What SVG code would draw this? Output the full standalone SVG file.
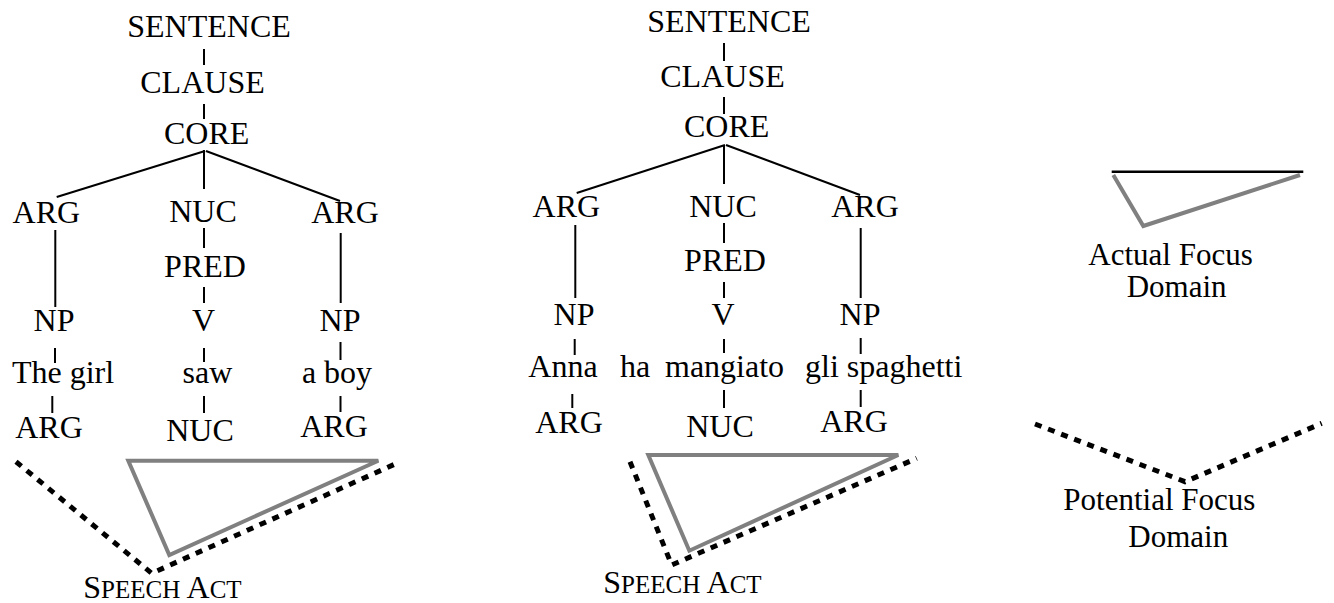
<svg xmlns="http://www.w3.org/2000/svg" width="1334" height="603" viewBox="0 0 1334 603">
<style>
text{font-family:"Liberation Serif","Times New Roman",serif;font-size:32px;fill:#000}
.m{text-anchor:middle}
.lbl{font-size:31px}
.sc{font-size:25px}
.ln{stroke:#000;stroke-width:2;fill:none}
.gray{stroke:#808080;stroke-width:4;fill:none;stroke-linejoin:miter}
.dot{stroke:#000;stroke-width:5;fill:none;stroke-dasharray:7 7}
</style>
<rect width="1334" height="603" fill="#fff"/>
<g id="connectors">
<!-- left tree -->
<line class="ln" x1="204" y1="49" x2="204" y2="65"/>
<line class="ln" x1="204" y1="104" x2="204" y2="119"/>
<line class="ln" x1="205" y1="151" x2="56.7" y2="197"/>
<line class="ln" x1="204" y1="150" x2="204" y2="189"/>
<line class="ln" x1="206" y1="151" x2="340" y2="201"/>
<line class="ln" x1="204" y1="228" x2="204" y2="248"/>
<line class="ln" x1="55.3" y1="230" x2="55.3" y2="307"/>
<line class="ln" x1="204" y1="287" x2="204" y2="303"/>
<line class="ln" x1="340.7" y1="233" x2="340.7" y2="303"/>
<line class="ln" x1="55" y1="348" x2="55" y2="363"/>
<line class="ln" x1="204" y1="348" x2="204" y2="362"/>
<line class="ln" x1="340.5" y1="342" x2="340.5" y2="360"/>
<line class="ln" x1="52.3" y1="396" x2="52.3" y2="413"/>
<line class="ln" x1="204" y1="396" x2="204" y2="413"/>
<line class="ln" x1="340.5" y1="396" x2="340.5" y2="412"/>
<!-- middle tree -->
<line class="ln" x1="724" y1="43" x2="724" y2="61"/>
<line class="ln" x1="724" y1="97" x2="724" y2="114"/>
<line class="ln" x1="725" y1="145" x2="576.7" y2="193"/>
<line class="ln" x1="724" y1="145" x2="724" y2="184"/>
<line class="ln" x1="726" y1="145" x2="860" y2="195"/>
<line class="ln" x1="724" y1="223" x2="724" y2="243"/>
<line class="ln" x1="575.3" y1="225" x2="575.3" y2="298"/>
<line class="ln" x1="724" y1="282" x2="724" y2="298"/>
<line class="ln" x1="860.7" y1="228" x2="860.7" y2="298"/>
<line class="ln" x1="574.7" y1="339" x2="574.7" y2="355"/>
<line class="ln" x1="724" y1="339" x2="724" y2="353"/>
<line class="ln" x1="860.7" y1="338" x2="860.7" y2="354"/>
<line class="ln" x1="572.3" y1="394" x2="572.3" y2="408"/>
<line class="ln" x1="724" y1="390" x2="724" y2="408"/>
<line class="ln" x1="860.7" y1="390" x2="860.7" y2="407"/>
</g>
<g id="tree-left">
<text class="m" x="209" y="37">SENTENCE</text>
<text class="m" x="202.5" y="93">CLAUSE</text>
<text class="m" x="206.7" y="144">CORE</text>
<text class="m" x="46.3" y="222.7">ARG</text>
<text class="m" x="203" y="222">NUC</text>
<text class="m" x="345" y="222.7">ARG</text>
<text class="m" x="205" y="277">PRED</text>
<text class="m" x="54" y="330.7">NP</text>
<text class="m" x="203.5" y="330.7">V</text>
<text class="m" x="340" y="330.7">NP</text>
<text class="m" x="63" y="383">The girl</text>
<text class="m" x="207.5" y="383">saw</text>
<text class="m" x="337" y="383">a boy</text>
<text class="m" x="49" y="438">ARG</text>
<text class="m" x="200" y="440.7">NUC</text>
<text class="m" x="334" y="436.7">ARG</text>
</g>
<g id="focus-left">
<polygon class="gray" points="128.3,460.7 378.3,460.7 169.3,555"/>
<polyline class="dot" points="16,461.7 151.7,573.3 396.7,463.3"/>
<text x="83.3" y="598">S<tspan class="sc">PEECH</tspan> A<tspan class="sc">CT</tspan></text>
</g>
<g id="tree-middle">
<text class="m" x="729" y="31.7">SENTENCE</text>
<text class="m" x="722.5" y="87.3">CLAUSE</text>
<text class="m" x="726.7" y="137.3">CORE</text>
<text class="m" x="566.3" y="217.3">ARG</text>
<text class="m" x="723" y="217">NUC</text>
<text class="m" x="865" y="217.3">ARG</text>
<text class="m" x="725" y="270.7">PRED</text>
<text class="m" x="574" y="325">NP</text>
<text class="m" x="723" y="325">V</text>
<text class="m" x="860" y="325">NP</text>
<text class="m" x="563" y="377.3">Anna</text>
<text x="620" y="377.3">ha</text>
<text x="665" y="377.3">mangiato</text>
<text x="805" y="377.3">gli spaghetti</text>
<text class="m" x="569" y="433.3">ARG</text>
<text class="m" x="720" y="436.7">NUC</text>
<text class="m" x="854" y="431.7">ARG</text>
</g>
<g id="focus-middle">
<polygon class="gray" points="648.3,455 898.3,455 689.3,550.7"/>
<polyline class="dot" points="630,461.7 671.7,565 916.7,458.3"/>
<text x="603.3" y="593">S<tspan class="sc">PEECH</tspan> A<tspan class="sc">CT</tspan></text>
</g>
<g id="legend-actual">
<line x1="1111.7" y1="171.7" x2="1303.3" y2="171.7" stroke="#000" stroke-width="2.5"/>
<polyline class="gray" points="1113.3,175 1143.3,226 1300,175"/>
<text class="lbl" x="1088.3" y="265">Actual Focus</text>
<text class="lbl" x="1126.7" y="296.7">Domain</text>
</g>
<g id="legend-potential">
<polyline class="dot" points="1035,424 1185,481.7 1321.7,423.3"/>
<text class="lbl" x="1063.3" y="510">Potential Focus</text>
<text class="lbl" x="1128.3" y="546.7">Domain</text>
</g>
</svg>
